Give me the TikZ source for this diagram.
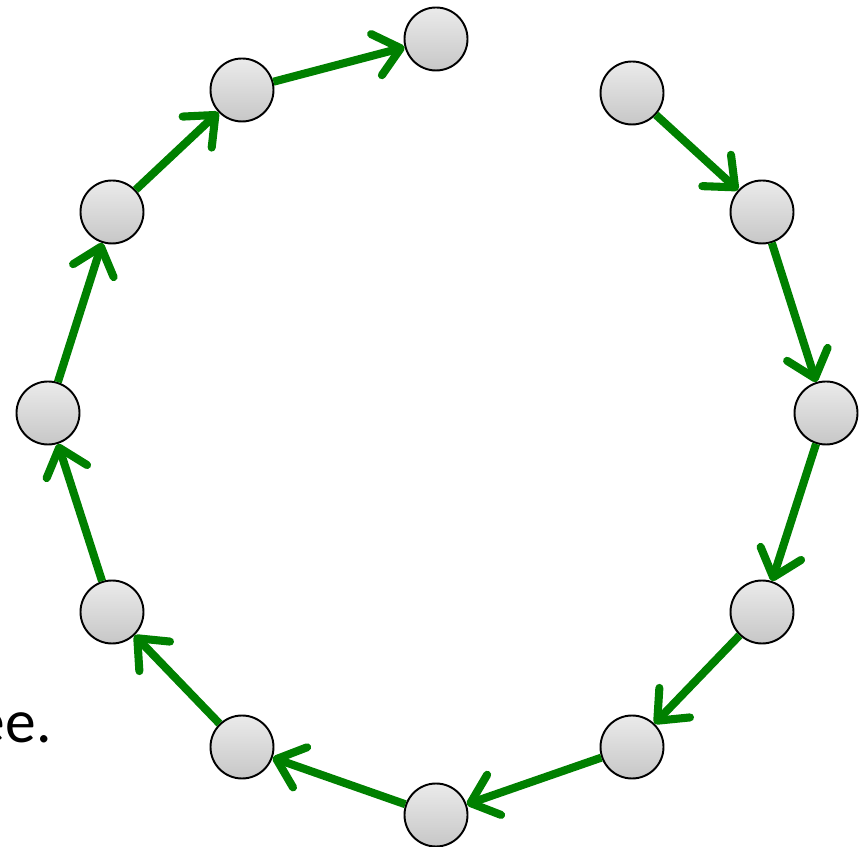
\documentclass[tikz,border=0pt]{standalone}
\usepackage{fontspec}
\setmainfont{Carlito}
\usetikzlibrary{arrows.meta}
\definecolor{hopgreen}{RGB}{0,128,0}
\begin{document}
\begin{tikzpicture}[
  vtx/.style={circle, draw=black, line width=1.1pt, top color=black!8, bottom color=black!22, minimum size=1.26cm, inner sep=0pt},
  hop/.style={draw=hopgreen, line width=4.6pt, -{Straight Barb[length=5mm,width=8.5mm,round]}}
]
\useasboundingbox (0,0) rectangle (17.18,16.92);
\node[vtx] (v1) at (8.72,16.14) {};
\node[vtx] (v2) at (4.84,15.12) {};
\node[vtx] (v3) at (2.24,12.68) {};
\node[vtx] (v4) at (0.96,8.66) {};
\node[vtx] (v5) at (2.24,4.68) {};
\node[vtx] (v6) at (4.84,1.98) {};
\node[vtx] (v7) at (8.72,0.62) {};
\node[vtx] (v8) at (12.64,1.98) {};
\node[vtx] (v9) at (15.24,4.68) {};
\node[vtx] (v10) at (16.52,8.66) {};
\node[vtx] (v11) at (15.24,12.68) {};
\node[vtx] (v12) at (12.64,15.06) {};
\draw[hop] (v12) -- (v11);
\draw[hop] (v11) -- (v10);
\draw[hop] (v10) -- (v9);
\draw[hop] (v9) -- (v8);
\draw[hop] (v8) -- (v7);
\draw[hop] (v7) -- (v6);
\draw[hop] (v6) -- (v5);
\draw[hop] (v5) -- (v4);
\draw[hop] (v4) -- (v3);
\draw[hop] (v3) -- (v2);
\draw[hop] (v2) -- (v1);
\node[font=\fontsize{35}{42}\selectfont, anchor=base east, inner sep=0pt] (tail) at (1.04,2.06) {ee.};
\end{tikzpicture}
\end{document}
